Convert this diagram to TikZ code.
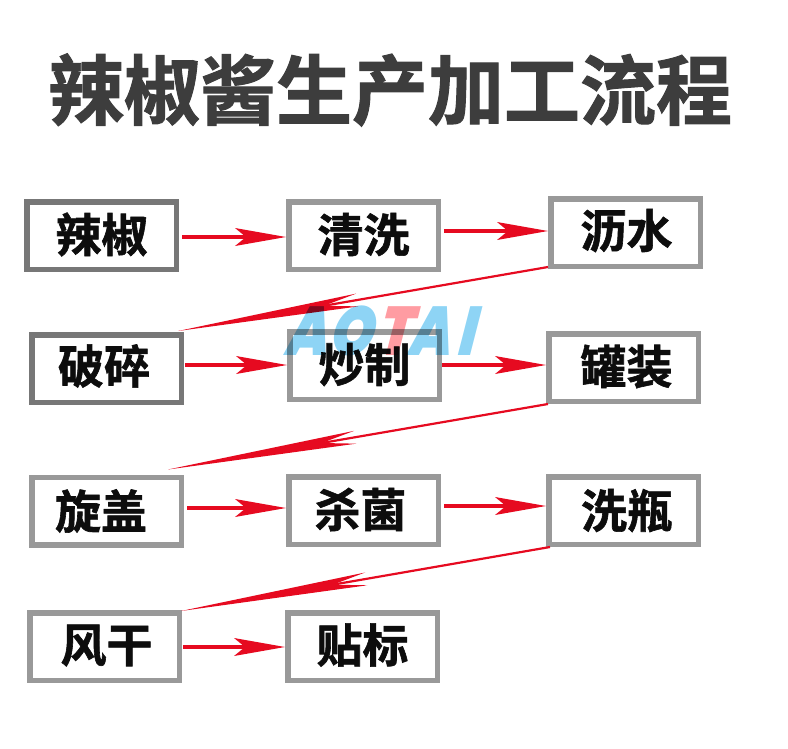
\documentclass[tikz,border=0pt]{standalone}
\usepackage{fontspec}
\usetikzlibrary{arrows.meta}
\newfontfamily\cjk[FakeBold=1.3]{Noto Sans CJK SC Bold}
\newfontfamily\wmfont[FakeSlant=.32]{Poppins Black}
\newcommand\nudged[3]{\raisebox{#2pt}[\height][\depth]{\hspace*{#1pt}#3\hspace*{-#1pt}}}
\definecolor{arrowred}{HTML}{E60A20}
\definecolor{darkedge}{HTML}{777777}
\definecolor{lightedge}{HTML}{999999}
\definecolor{titlegray}{HTML}{3D3D3D}
\definecolor{wmblue}{HTML}{8ED4F5}
\definecolor{wmpink}{HTML}{FF9CA2}
\tikzset{
  stepbox/.style={draw=lightedge,fill=white,line width=5.5pt,minimum width=149.5pt,minimum height=67.5pt,inner sep=0pt,
    font=\cjk\fontsize{46}{46}\selectfont,text=black!95},
  darkbox/.style={stepbox,draw=darkedge},
  flowarrow/.style={draw=arrowred,line width=3.5pt,-{Stealth[length=51pt,width=18pt,inset=11pt,line width=0pt,fill=arrowred]}},
  backarrow/.style={draw=arrowred,line width=2.2pt,-{Stealth[length=#1pt,width=13pt,inset=34pt,line width=0pt,fill=arrowred]}},
  wmletter/.style={inner sep=0pt,xscale=.8,font=\wmfont\fontsize{69}{69}\selectfont}
}
\begin{document}
\begin{tikzpicture}[x=1pt,y=-1pt]
\useasboundingbox (0,0) rectangle (788,748);
\node[font=\cjk\fontsize{76}{76}\selectfont,text=titlegray] (title) at (390,90) {辣椒酱生产加工流程};
\node[darkbox]  (a1) at (101.5,235.5) {\nudged{0}{1}{辣椒}};
\node[stepbox]  (a2) at (363.5,235.5) {\nudged{0}{1}{清洗}};
\node[stepbox]  (a3) at (625.5,232.5) {\nudged{1}{2}{沥水}};
\node[darkbox]  (b1) at (106.5,368.5) {\nudged{-2.5}{2.5}{破碎}};
\node[stepbox]  (b2) at (364.5,365.5) {\nudged{0}{1}{炒制}};
\node[stepbox]  (b3) at (623.5,367.5) {\nudged{3}{1}{罐装}};
\node[stepbox]  (c1) at (106.5,511) {\nudged{-5.5}{0}{旋盖}};
\node[stepbox]  (c2) at (363.5,510.5) {\nudged{-3}{1}{杀菌}};
\node[stepbox]  (c3) at (623.5,510.5) {\nudged{3.5}{0}{洗瓶}};
\node[stepbox]  (d1) at (104.5,646.5) {\nudged{2}{1}{风干}};
\node[stepbox]  (d2) at (362.5,646.5) {\nudged{0}{1.5}{贴标}};
\draw[flowarrow] ([shift={(3,1.5)}]a1.east) -- ([shift={(0,1.5)}]a2.west);
\draw[flowarrow] ([shift={(3,-4.5)}]a2.east) -- ([shift={(0,-1.5)}]a3.west);
\draw[flowarrow] ([shift={(1,-3.5)}]b1.east) -- ([shift={(0,-.5)}]b2.west);
\draw[flowarrow] ([shift={(0,-.5)}]b2.east) -- ([shift={(0,-2.5)}]b3.west);
\draw[flowarrow] ([shift={(3,-3)}]c1.east) -- ([shift={(0,-2.5)}]c2.west);
\draw[flowarrow] ([shift={(3,-4.5)}]c2.east) -- ([shift={(0,-4.5)}]c3.west);
\draw[flowarrow] ([shift={(1,.5)}]d1.east) -- ([shift={(0,.5)}]d2.west);
\draw[backarrow=182] ([shift={(0,-2)}]a3.south west) -- ([shift={(-6,-1)}]b1.north east);
\draw[backarrow=190] ([shift={(2,0)}]b3.south west) -- ([shift={(-16,-5)}]c1.north east);
\draw[backarrow=188] ([shift={(4,0)}]c3.south west) -- ([shift={(-1,1)}]d1.north east);
\begin{scope}[blend mode=multiply]
\node[wmletter,text=wmblue] (w1) at (305,331) {A};
\node[wmletter,text=wmblue] (w2) at (349,331) {O};
\node[wmletter,text=wmpink] (w3) at (392,331) {T};
\node[wmletter,text=wmblue] (w4) at (428,331) {A};
\node[wmletter,text=wmblue] (w5) at (464,331) {I};
\end{scope}
\end{tikzpicture}
\end{document}
